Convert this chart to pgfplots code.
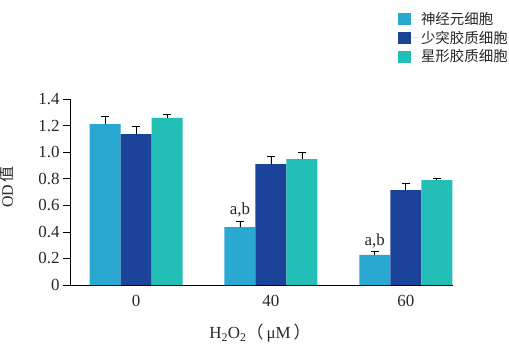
\documentclass[border=0pt]{standalone}
\usepackage{fontspec}
\setmainfont{Liberation Serif}
\newfontfamily\cjk{Noto Sans CJK SC}
\usepackage{pgfplots}
\pgfplotsset{compat=1.18}
\definecolor{c1}{RGB}{41,168,210}
\definecolor{c2}{RGB}{26,67,153}
\definecolor{c3}{RGB}{35,190,181}
\definecolor{txt}{RGB}{40,40,40}
\pgfplotsset{sq legend/.style={legend image code/.code={\fill[##1] (0bp,-6bp) rectangle (13bp,6bp); \path (0bp,0bp) -- (21bp,0bp);}}}
\begin{document}
\begin{tikzpicture}
\useasboundingbox (-70bp,-63bp) rectangle (439bp,285bp);
\begin{axis}[
  at={(0,0)}, anchor=south west,
  scale only axis, width=383bp, height=186bp,
  xmin=-0.49, xmax=2.35, ymin=0, ymax=1.4,
  axis x line*=bottom, axis y line*=left,
  axis line style={black, line width=0.7pt},
  xtick={0,1,2}, xticklabels={0,40,60},
  x tick style={draw=none},
  ytick={0,0.2,0.4,0.6,0.8,1.0,1.2,1.4},
  yticklabels={0,0.2,0.4,0.6,0.8,1.0,1.2,1.4},
  tick align=outside, major tick length=7bp,
  y tick style={black, line width=0.7pt},
  tick label style={font=\fontsize{17}{19}\selectfont, text=txt},
  ylabel={OD\,{\cjk 值}},
  ylabel style={at={(axis description cs:-0.165,0.527)}, anchor=center, rotate=0, font=\fontsize{16}{18}\selectfont, text=txt},
  xlabel={H\textsubscript{2}O\textsubscript{2}{\cjk （}\hspace{3bp}μM\hspace{3bp}{\cjk ）}},
  xlabel style={at={(axis description cs:0.496,-0.258)}, anchor=center, font=\fontsize{17}{19}\selectfont, text=txt},
  legend style={at={(axis description cs:0.856,1.478)}, anchor=north west, draw=none, fill=none,
    font=\cjk\fontsize{14.5}{16}\selectfont, text=txt, row sep=1bp, inner sep=0pt},
  legend cell align=left,
  ybar,
  error bars/y dir=plus, error bars/y explicit,
  error bars/error bar style={black, line width=0.8pt},
  error bars/error mark options={rotate=90, mark size=4bp, black, line width=0.8pt},
]
\addplot[fill=c1, draw=none, bar width=0.23, bar shift=-0.23, sq legend] coordinates {(0,1.21) +- (0,0.06) (1,0.436) +- (0,0.045) (2,0.226) +- (0,0.028)};
\addplot[fill=c2, draw=none, bar width=0.23, bar shift=0, sq legend] coordinates {(0,1.136) +- (0,0.055) (1,0.91) +- (0,0.055) (2,0.715) +- (0,0.05)};
\addplot[fill=c3, draw=none, bar width=0.23, bar shift=0.23, sq legend] coordinates {(0,1.257) +- (0,0.028) (1,0.948) +- (0,0.05) (2,0.79) +- (0,0.014)};
\legend{神经元细胞,少突胶质细胞,星形胶质细胞}
\node[font=\fontsize{17}{19}\selectfont, text=txt, anchor=base] at (axis cs:0.77,0.527) {a,b};
\node[font=\fontsize{17}{19}\selectfont, text=txt, anchor=base] at (axis cs:1.77,0.30) {a,b};
\end{axis}
\end{tikzpicture}
\end{document}
